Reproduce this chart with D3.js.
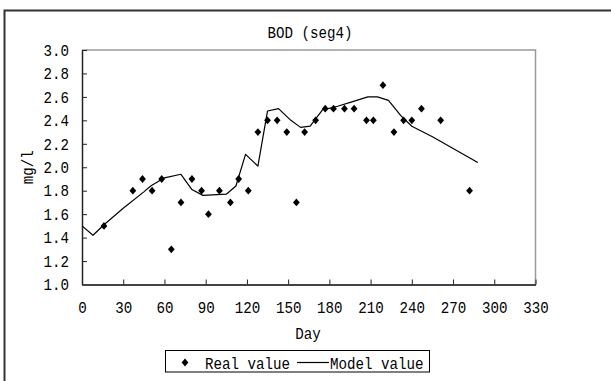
<!DOCTYPE html>
<html>
<head>
<meta charset="utf-8">
<script src="https://cdn.jsdelivr.net/npm/d3@7"></script>
<style>
  html, body { margin: 0; padding: 0; background: #fff; }
  svg { display: block; }
  text { font-family: "Liberation Mono", "DejaVu Sans Mono", monospace; font-size: 16.5px; fill: #000; }
</style>
</head>
<body>
<svg id="chart" width="611" height="381"></svg>
<script>
// Observed BOD values (day, mg/l)
const realDays   = [16, 37, 44, 51, 58, 65, 72, 80, 87, 92, 100, 108, 114, 121, 128, 135, 142, 149, 156, 162, 170, 177, 183, 191, 198, 207, 212, 219, 227, 234, 240, 247, 261, 282];
const realValues = [1.5, 1.8, 1.9, 1.8, 1.9, 1.3, 1.7, 1.9, 1.8, 1.6, 1.8, 1.7, 1.9, 1.8, 2.3, 2.4, 2.4, 2.3, 1.7, 2.3, 2.4, 2.5, 2.5, 2.5, 2.5, 2.4, 2.4, 2.7, 2.3, 2.4, 2.4, 2.5, 2.4, 1.8];

// Simulated BOD curve (day, mg/l)
const modelDays   = [0, 8, 16, 30, 45, 50, 60, 72, 80, 88, 105, 112, 119, 128, 135, 143, 152, 159, 166, 175, 186, 197, 208, 215, 223, 232, 240, 255, 288];
const modelValues = [1.50, 1.42, 1.51, 1.65, 1.79, 1.84, 1.91, 1.94, 1.81, 1.76, 1.77, 1.84, 2.11, 2.01, 2.48, 2.50, 2.40, 2.34, 2.35, 2.49, 2.52, 2.56, 2.60, 2.60, 2.57, 2.44, 2.35, 2.26, 2.04];

const xTicks = [0, 30, 60, 90, 120, 150, 180, 210, 240, 270, 300, 330];
const yTicks = [1.0, 1.2, 1.4, 1.6, 1.8, 2.0, 2.2, 2.4, 2.6, 2.8, 3.0];

const titleText = "BOD (seg4)";
const xTitle = "Day";
const yTitle = "mg/l";
const legendReal = "Real value";
const legendModel = "Model value";

const CHAR_W = 8.5;   // fixed advance per character

const svg = d3.select("#chart");

const plot = { left: 82, right: 535.5, top: 50, bottom: 284.5 };

const x = d3.scaleLinear().domain([0, 330]).range([plot.left, plot.right]);
const y = d3.scaleLinear().domain([1, 3]).range([plot.bottom, plot.top]);

function fitMono(sel) {
  sel.each(function () {
    const t = d3.select(this);
    const n = t.text().length;
    t.attr("textLength", n * CHAR_W).attr("lengthAdjust", "spacingAndGlyphs");
  });
}

// outer frame
svg.append("rect")
  .attr("x", 4.5).attr("y", 10.5)
  .attr("width", 640).attr("height", 420)
  .attr("fill", "none").attr("stroke", "#333").attr("stroke-width", 2);

// plot border (top and right)
svg.append("path")
  .attr("d", `M${plot.left},${plot.top}H${plot.right}V${plot.bottom}`)
  .attr("fill", "none").attr("stroke", "#999").attr("stroke-width", 1.5);

// title
svg.append("text")
  .attr("x", 310).attr("y", 37.5)
  .attr("text-anchor", "middle")
  .text(titleText).call(fitMono);

// y axis
const yAxis = svg.append("g")
  .attr("transform", `translate(${plot.left},0)`)
  .call(d3.axisLeft(y).tickValues(yTicks).tickFormat(d3.format(".1f"))
        .tickSizeInner(-5).tickSizeOuter(0).tickPadding(13))
  .attr("font-family", null).attr("font-size", null);
yAxis.select(".domain").attr("stroke", "#222").attr("stroke-width", 1.5);
yAxis.selectAll(".tick line").attr("stroke", "#222");
yAxis.selectAll("text").call(fitMono);

// x axis
const xAxis = svg.append("g")
  .attr("transform", `translate(0,${plot.bottom})`)
  .call(d3.axisBottom(x).tickValues(xTicks).tickFormat(d3.format("d"))
        .tickSizeInner(-5).tickSizeOuter(0).tickPadding(17))
  .attr("font-family", null).attr("font-size", null);
xAxis.select(".domain").attr("stroke", "#444").attr("stroke-width", 2);
xAxis.selectAll(".tick line").attr("stroke", "#222");
xAxis.selectAll("text").call(fitMono);

// axis titles
svg.append("text")
  .attr("x", 308).attr("y", 339)
  .attr("text-anchor", "middle")
  .text(xTitle).call(fitMono);

svg.append("text")
  .attr("transform", `translate(33,${(plot.top + plot.bottom) / 2}) rotate(-90)`)
  .attr("text-anchor", "middle")
  .text(yTitle).call(fitMono);

// model line
const modelData = modelDays.map((d, i) => ({ day: d, v: modelValues[i] }));
svg.append("path")
  .datum(modelData)
  .attr("fill", "none").attr("stroke", "#000").attr("stroke-width", 1.2)
  .attr("stroke-linejoin", "round")
  .attr("d", d3.line().x(d => x(d.day)).y(d => y(d.v)));

// diamond marker
function diamond(cx, cy, hw = 3.4, hh = 3.9) {
  return `M${cx},${cy - hh}L${cx + hw},${cy}L${cx},${cy + hh}L${cx - hw},${cy}Z`;
}

const realData = realDays.map((d, i) => ({ day: d, v: realValues[i] }));
svg.append("g").selectAll("path")
  .data(realData).join("path")
  .attr("d", d => diamond(x(d.day), y(d.v)))
  .attr("fill", "#000");

// legend
const lg = svg.append("g");
lg.append("rect")
  .attr("x", 165.5).attr("y", 350.5).attr("width", 264).attr("height", 21.5)
  .attr("fill", "#fff").attr("stroke", "#000").attr("stroke-width", 1);
lg.append("path").attr("d", diamond(185, 362.5)).attr("fill", "#000");
lg.append("text").attr("x", 205).attr("y", 368.5).text(legendReal).call(fitMono);
lg.append("line")
  .attr("x1", 297).attr("x2", 329).attr("y1", 362.5).attr("y2", 362.5)
  .attr("stroke", "#000").attr("stroke-width", 1.2);
lg.append("text").attr("x", 330).attr("y", 368.5).text(legendModel).call(fitMono);
</script>
</body>
</html>
